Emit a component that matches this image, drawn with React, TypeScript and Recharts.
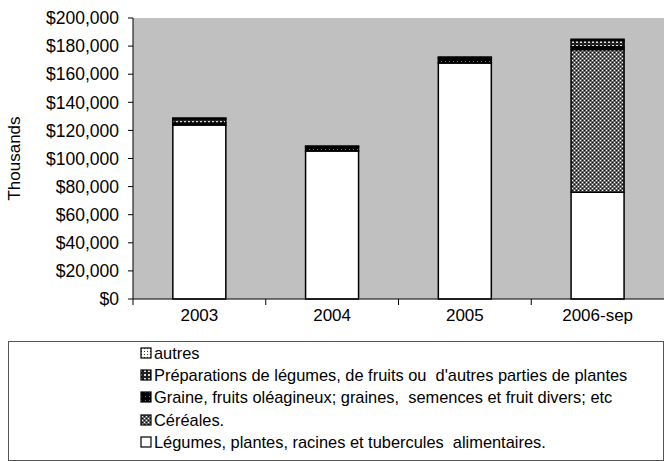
import React from 'react';
import { BarChart, Bar, XAxis, YAxis, CartesianGrid, Legend } from 'recharts';

document.body.style.margin = '0';

// Valeurs (en milliers de $)
const categories = ['2003', '2004', '2005', '2006-sep'];
const legumes = [123800, 105300, 168000, 76000];
const cereales = [null, null, null, 101500];
const graine = [1500, 3000, 3500, 2000];
const preparations = [3000, null, null, 4500];
const autres = [500, 600, 700, 800];
const yTicks = [0, 20000, 40000, 60000, 80000, 100000, 120000, 140000, 160000, 180000, 200000];

const series = [
  { key: 'legumes', name: 'Légumes, plantes, racines et tubercules  alimentaires.', fill: '#ffffff' },
  { key: 'cereales', name: 'Céréales.', fill: 'url(#patCereales)' },
  { key: 'graine', name: 'Graine, fruits oléagineux; graines,  semences et fruit divers; etc', fill: 'url(#patGraine)' },
  { key: 'preparations', name: 'Préparations de légumes, de fruits ou  d\'autres parties de plantes', fill: 'url(#patPrep)' },
  { key: 'autres', name: 'autres', fill: 'url(#patAutres)' },
];

const data = categories.map((c, i) => ({
  name: c,
  legumes: legumes[i],
  cereales: cereales[i],
  graine: graine[i],
  preparations: preparations[i],
  autres: autres[i],
}));

const W = 664;
const H = 461;
const PLOT_LEFT = 133;
const FONT = '"Liberation Sans", Arial, sans-serif';

const fmt = (v: number) => '$' + v.toLocaleString('en-US');

function XTick(props: any) {
  const { x, y, payload } = props;
  const band = (W - PLOT_LEFT) / categories.length;
  return (
    <g>
      <line x1={x - band / 2} x2={x - band / 2} y1={y - 8} y2={y - 2} stroke="#000" />
      <text x={x} y={y + 14} textAnchor="middle" fontSize={17} fill="#000" fontFamily={FONT}>
        {payload.value}
      </text>
    </g>
  );
}

function YLabel(props: any) {
  const vb = props.viewBox || { x: 0, y: 18, width: PLOT_LEFT, height: 281 };
  const cx = 20;
  const cy = vb.y + vb.height / 2;
  return (
    <text
      x={cx}
      y={cy}
      transform={`rotate(-90, ${cx}, ${cy})`}
      textAnchor="middle"
      fontSize={17}
      fill="#000"
      fontFamily={FONT}
    >
      Thousands
    </text>
  );
}

function LegendBox() {
  const items = [...series].reverse();
  return (
    <div
      style={{
        border: '1px solid #555',
        height: 120,
        boxSizing: 'border-box',
        fontFamily: FONT,
        fontSize: 16.4,
        color: '#000',
      }}
    >
      {items.map((s) => (
        <div key={s.key} style={{ height: 22.2, lineHeight: '22px', display: 'flex', alignItems: 'center', paddingLeft: 131 }}>
          <svg width={12} height={12} style={{ marginRight: 2 }}>
            <rect x={1} y={1} width={10} height={10} fill={s.fill} stroke="#000" strokeWidth={1.2} />
          </svg>
          <span style={{ whiteSpace: 'pre' }}>{s.name}</span>
        </div>
      ))}
    </div>
  );
}

export default function App() {
  return (
    <div style={{ width: W, height: H, background: '#fff', position: 'relative', fontFamily: FONT }}>
      <svg width={0} height={0} style={{ position: 'absolute' }}>
        <defs>
          <pattern id="patCereales" width={4} height={4} patternUnits="userSpaceOnUse">
            <rect width={4} height={4} fill="#666" />
            <rect x={0} y={0} width={1} height={1} fill="#fff" />
            <rect x={2} y={2} width={1} height={1} fill="#fff" />
            <rect x={2} y={0} width={1} height={1} fill="#111" />
            <rect x={0} y={2} width={1} height={1} fill="#111" />
          </pattern>
          <pattern id="patGraine" width={4} height={4} patternUnits="userSpaceOnUse">
            <rect width={4} height={4} fill="#000" />
            <rect x={1} y={1} width={1} height={1} fill="#777" />
          </pattern>
          <pattern id="patPrep" width={4} height={4} patternUnits="userSpaceOnUse">
            <rect width={4} height={4} fill="#222" />
            <rect x={0} y={1} width={2} height={2} fill="#ddd" />
          </pattern>
          <pattern id="patAutres" width={3} height={3} patternUnits="userSpaceOnUse">
            <rect width={3} height={3} fill="#fff" />
            <rect x={1} y={1} width={1} height={1} fill="#333" />
          </pattern>
        </defs>
      </svg>
      <BarChart
        width={W}
        height={H}
        data={data}
        margin={{ top: 18, right: 0, left: 0, bottom: 0 }}
        barCategoryGap="30%"
        style={{ fontFamily: FONT }}
      >
        <CartesianGrid fill="#c0c0c0" horizontal={false} vertical={false} />
        <XAxis
          dataKey="name"
          height={42}
          axisLine={{ stroke: '#000', strokeWidth: 1 }}
          tickLine={false}
          tick={<XTick />}
          interval={0}
        />
        <YAxis
          width={PLOT_LEFT}
          domain={[0, 200000]}
          ticks={yTicks}
          tickFormatter={fmt}
          axisLine={{ stroke: '#000' }}
          tickLine={{ stroke: '#000' }}
          tickSize={5}
          tickMargin={9}
          tick={{ fontSize: 17.5, fill: '#000', fontFamily: FONT }}
          interval={0}
          label={<YLabel />}
        />
        <Legend
          verticalAlign="bottom"
          align="left"
          wrapperStyle={{ left: 8, width: 656, bottom: 0 }}
          content={() => <LegendBox />}
        />
        {series.map((s) => (
          <Bar
            key={s.key}
            dataKey={s.key}
            name={s.name}
            stackId="a"
            fill={s.fill}
            stroke="#000"
            strokeWidth={1.5}
            isAnimationActive={false}
          />
        ))}
      </BarChart>
    </div>
  );
}
